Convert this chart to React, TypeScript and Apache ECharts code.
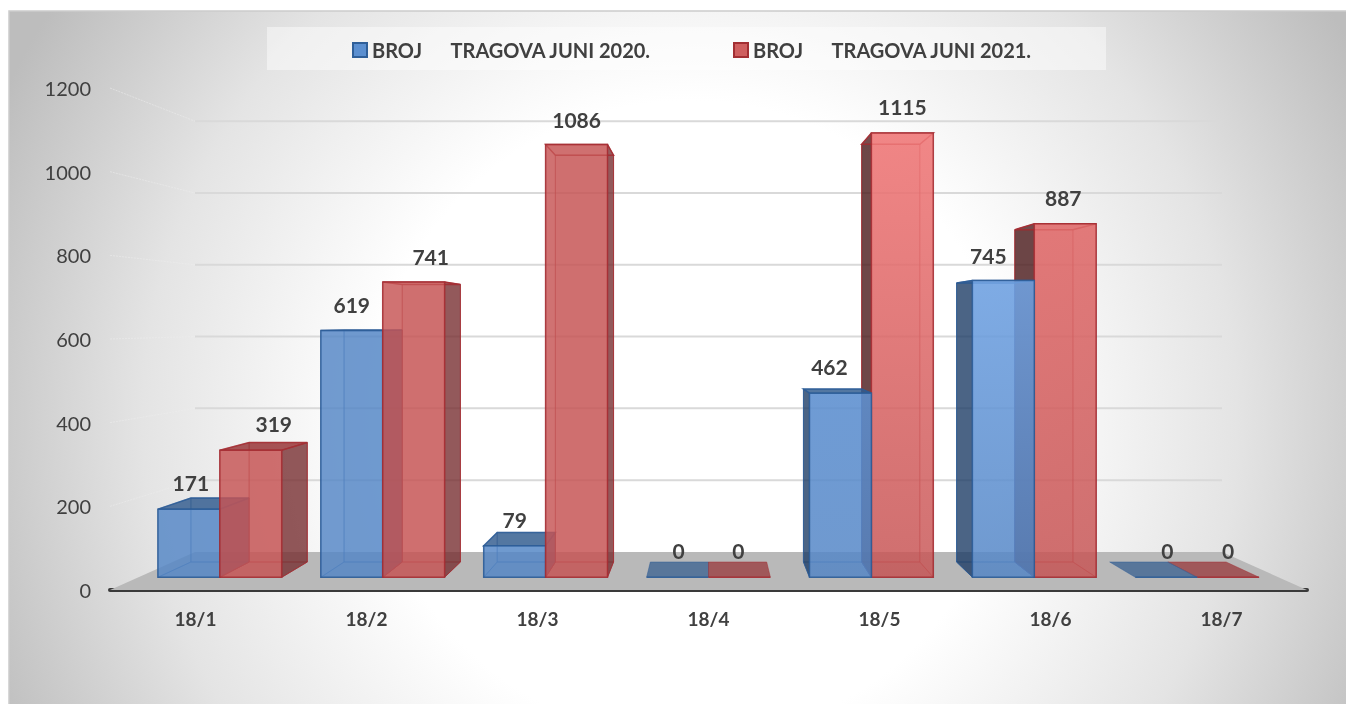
import React, { useEffect, useRef } from "react";
import * as echarts from "echarts";

const categories = ["18/1", "18/2", "18/3", "18/4", "18/5", "18/6", "18/7"];
const values2020 = [171, 619, 79, 0, 462, 745, 0];
const values2021 = [319, 741, 1086, 0, 1115, 887, 0];
const yTicks = [0, 200, 400, 600, 800, 1000, 1200];
const name2020 = "BROJ      TRAGOVA JUNI 2020.";
const name2021 = "BROJ      TRAGOVA JUNI 2021.";

// perspective of the reference's 3D view
const VP_X = 708.5;
const VP_Y = 322;
const S_WALL = 0.858;
const S_FRONT = 0.9526;
const S_BACK = 0.8955;
const BAR_FRACTION = 0.38;
const FONT = "Lato, 'Noto Sans', sans-serif";
const TEXT = "#404040";

// how much the top of the front face of each group catches the light
const lift2020 = [0, 0, 0, 0, 10, 28, 0];
const lift2021 = [0, 0, 0, 0, 42, 26, 0];
// label placement relative to the top-centre of the front face
const labelShift2020 = [[2, -15], [0, -26], [0, -13], [1, -11], [-11, -22], [-15, -25], [1, -11]];
const labelShift2021 = [[23, -19], [17, -26], [0, -25], [-1, -11], [0, -26], [-2, -26], [0, -11]];

const project = (x: number, y: number, s: number) => [
  VP_X + (x - VP_X) * s,
  VP_Y + (y - VP_Y) * s,
];

const rgba = (c: number[], a: number) => `rgba(${c[0]},${c[1]},${c[2]},${a})`;
const brighten = (c: number[], d: number) =>
  c.map((v, i) => Math.min(255, Math.round(v + d * (i === 0 || c[0] < c[2] ? 1 : 0.85))));

type Palette = {
  front: number[];
  edge: number[];
  sideL: number[];
  sideR: number[];
  top: number[];
};
const blue: Palette = {
  front: [84, 134, 198],
  edge: [44, 92, 150],
  sideL: [30, 60, 100],
  sideR: [46, 84, 132],
  top: [50, 92, 142],
};
const red: Palette = {
  front: [198, 84, 84],
  edge: [165, 45, 50],
  sideL: [70, 24, 26],
  sideR: [118, 48, 50],
  top: [150, 50, 52],
};

const makeBoxRenderer =
  (sign: number, pal: Palette, shifts: number[][], lift: number[], isRed: boolean) =>
  (params: any, api: any) => {
    const cat = api.value(0);
    const val = api.value(1);
    const base = api.coord([cat, 0]);
    const top = api.coord([cat, val]);
    const band = api.size([1, 0])[0];
    const w = band * BAR_FRACTION;
    const x0 = base[0] + (sign < 0 ? -w : 0);
    const x1 = x0 + w;
    const yB = base[1];
    const yT = top[1];

    const fBL = project(x0, yB, S_FRONT);
    const fBR = project(x1, yB, S_FRONT);
    const fTL = project(x0, yT, S_FRONT);
    const fTR = project(x1, yT, S_FRONT);
    const bBL = project(x0, yB, S_BACK);
    const bBR = project(x1, yB, S_BACK);
    const bTL = project(x0, yT, S_BACK);
    const bTR = project(x1, yT, S_BACK);

    // painter's order: the box farther from the view centre goes first
    const farther = isRed ? cat > 3 : cat < 3;
    const z2 = farther ? 10 : 20;
    const edge = rgba(pal.edge, 0.85);
    const faint = rgba(pal.edge, 0.45);

    const face = (pts: number[][], fill: any, stroke: string, lw = 1) => ({
      type: "polygon",
      z2,
      shape: { points: pts },
      style: { fill, stroke, lineWidth: lw },
      silent: true,
    });

    const flat = val === 0;
    const leftVisible = fTL[0] > bTL[0];
    const rightVisible = fTR[0] < bTR[0];
    const topVisible = fTL[1] > bTL[1];
    const d = lift[cat];
    const frontFill = d
      ? new echarts.graphic.LinearGradient(0, 0, 0, 1, [
          { offset: 0, color: rgba(brighten(pal.front, d), 0.88) },
          { offset: 1, color: rgba(pal.front, 0.82) },
        ])
      : rgba(pal.front, 0.82);

    const children: any[] = [];
    if (flat) {
      children.push(face([fBL, fBR, bBR, bBL], rgba(pal.top, 0.72), faint));
      children.push({
        type: "line",
        z2: z2 + 1,
        shape: { x1: fBL[0], y1: fBL[1], x2: fBR[0], y2: fBR[1] },
        style: { stroke: edge, lineWidth: 1.5 },
        silent: true,
      });
    } else {
      children.push(face([bBL, bBR, bTR, bTL], rgba(pal.front, 0.12), faint));
      children.push(face([fBL, fBR, bBR, bBL], rgba(pal.top, 0.1), faint));
      children.push(
        face(
          [fBL, bBL, bTL, fTL],
          leftVisible ? rgba(pal.sideL, 0.78) : rgba(pal.front, 0.04),
          leftVisible ? edge : faint
        )
      );
      children.push(
        face(
          [fBR, bBR, bTR, fTR],
          rightVisible ? rgba(pal.sideR, 0.78) : rgba(pal.front, 0.04),
          rightVisible ? edge : faint
        )
      );
      children.push(
        face(
          [fTL, fTR, bTR, bTL],
          topVisible ? rgba(pal.top, 0.82) : rgba(pal.front, 0.1),
          edge,
          1.5
        )
      );
      children.push(face([fTL, fTR, fBR, fBL], frontFill, edge, 1.5));
    }

    const shift = shifts[cat];
    children.push({
      type: "text",
      z2: 40,
      silent: true,
      x: (fTL[0] + fTR[0]) / 2 + shift[0],
      y: Math.min(fTL[1], bTL[1]) + shift[1],
      style: {
        text: String(val),
        fill: TEXT,
        font: `bold 21px ${FONT}`,
        align: "center",
        verticalAlign: "middle",
      },
    });
    return { type: "group", children };
  };

const renderWalls = (params: any, api: any) => {
  const v = api.value(0);
  const cs = params.coordSys;
  const y = api.coord([0, v])[1];
  const l = cs.x;
  const r = cs.x + cs.width;
  const backL = project(l, y, S_WALL);
  const backR = project(r, y, S_WALL);
  if (v === 0) {
    return {
      type: "polygon",
      silent: true,
      shape: { points: [[l, y], backL, backR, [r, y]] },
      style: { fill: "#b9b9b9" },
    };
  }
  return {
    type: "group",
    silent: true,
    children: [
      {
        type: "line",
        shape: { x1: l, y1: y, x2: backL[0], y2: backL[1] },
        style: { stroke: "rgba(236,236,236,0.55)", lineWidth: 1, lineDash: [2, 1] },
      },
      {
        type: "line",
        shape: { x1: backL[0], y1: backL[1], x2: backR[0], y2: backR[1] },
        style: { stroke: "#d9d9d9", lineWidth: 2 },
      },
    ],
  };
};

const legendText = {
  color: TEXT,
  fontWeight: "bold",
  fontSize: 20,
  fontFamily: FONT,
};

export default function App() {
  const ref = useRef<HTMLDivElement>(null);
  useEffect(() => {
    const chart = echarts.init(ref.current!, undefined, { renderer: "svg" });
    chart.setOption({
      animation: false,
      textStyle: { fontFamily: FONT },
      graphic: [
        {
          type: "rect",
          z: -20,
          silent: true,
          shape: { x: 9, y: 11, width: 1345, height: 700 },
          style: {
            fill: new echarts.graphic.RadialGradient(
              690,
              420,
              760,
              [
                { offset: 0, color: "#ffffff" },
                { offset: 0.42, color: "#ffffff" },
                { offset: 0.72, color: "#e4e4e4" },
                { offset: 1, color: "#bdbdbd" },
              ],
              true
            ),
            stroke: "#cccccc",
            lineWidth: 1.5,
          },
        },
        {
          type: "rect",
          z: -10,
          silent: true,
          shape: { x: 267, y: 27, width: 839, height: 43 },
          style: { fill: "rgba(255,255,255,0.45)" },
        },
      ],
      legend: [
        {
          data: [{ name: name2020, icon: "rect" }],
          left: 352,
          top: 40,
          padding: 0,
          itemWidth: 14,
          itemHeight: 14,
          itemGap: 4,
          selectedMode: false,
          textStyle: legendText,
        },
        {
          data: [{ name: name2021, icon: "rect" }],
          left: 733,
          top: 40,
          padding: 0,
          itemWidth: 14,
          itemHeight: 14,
          itemGap: 4,
          selectedMode: false,
          textStyle: legendText,
        },
      ],
      grid: { left: 110, right: 39, top: 88, bottom: 114, containLabel: false },
      xAxis: {
        type: "category",
        data: categories,
        axisTick: { show: false },
        axisLine: {
          lineStyle: { color: "#3a3a3a", width: 4, cap: "round" },
        },
        axisLabel: {
          color: TEXT,
          fontWeight: "bold",
          fontSize: 19,
          margin: 19,
          fontFamily: FONT,
        },
      },
      yAxis: {
        type: "value",
        min: 0,
        max: 1200,
        interval: 200,
        axisLine: { show: false },
        axisTick: { show: false },
        splitLine: { show: false },
        axisLabel: {
          color: TEXT,
          fontSize: 20,
          margin: 19,
          fontFamily: FONT,
          formatter: (v: number) => String(v),
        },
      },
      series: [
        {
          type: "custom",
          name: "walls",
          z: 1,
          silent: true,
          renderItem: renderWalls,
          data: yTicks.map((v) => [v]),
          encode: { y: 0 },
        },
        {
          type: "custom",
          name: name2020,
          z: 3,
          silent: true,
          renderItem: makeBoxRenderer(-1, blue, labelShift2020, lift2020, false),
          itemStyle: { color: "#5b8fd0", borderColor: "#2f5f99", borderWidth: 1.5 },
          data: values2020.map((v, i) => [i, v]),
          encode: { x: 0, y: 1 },
        },
        {
          type: "custom",
          name: name2021,
          z: 3,
          silent: true,
          renderItem: makeBoxRenderer(1, red, labelShift2021, lift2021, true),
          itemStyle: { color: "#cf5f5f", borderColor: "#a32f33", borderWidth: 1.5 },
          data: values2021.map((v, i) => [i, v]),
          encode: { x: 0, y: 1 },
        },
      ],
    });
    return () => chart.dispose();
  }, []);
  return (
    <div
      ref={ref}
      style={{ position: "fixed", left: 0, top: 0, width: 1346, height: 704 }}
    />
  );
}
